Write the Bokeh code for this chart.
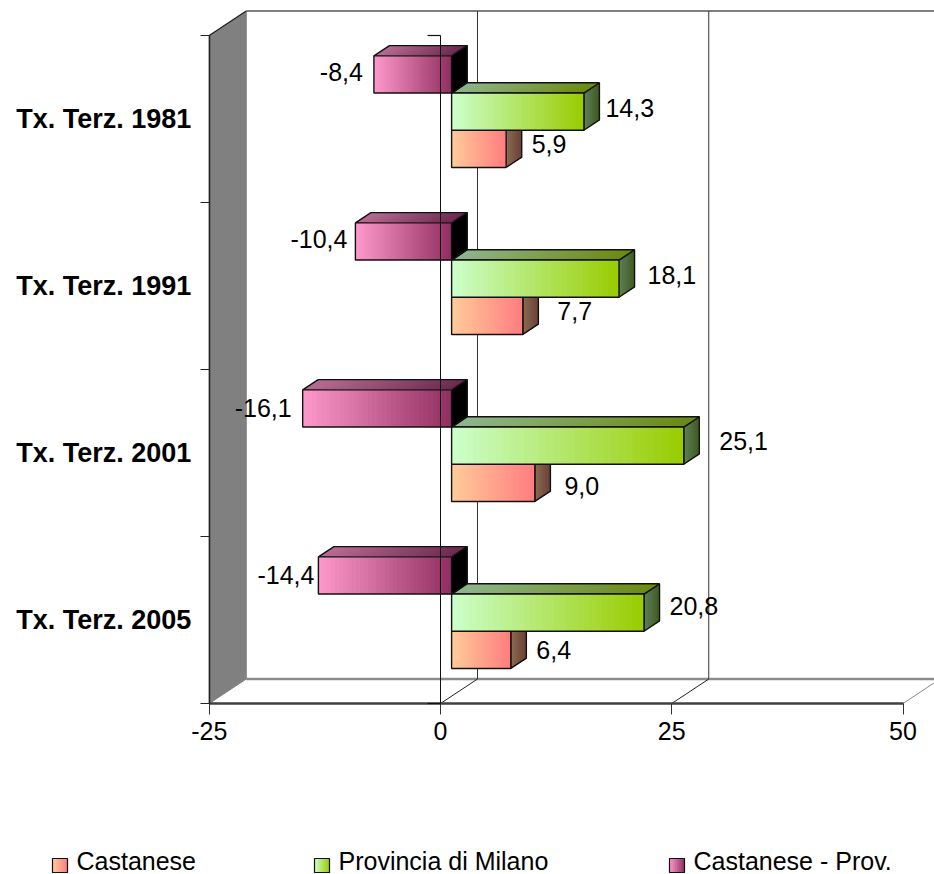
from bokeh.embed import file_html
from bokeh.models import FixedTicker, Range1d
from bokeh.plotting import figure
from bokeh.resources import INLINE

# Chart values
categories = ["Tx. Terz. 1981", "Tx. Terz. 1991", "Tx. Terz. 2001", "Tx. Terz. 2005"]
castanese = [5.9, 7.7, 9.0, 6.4]
provincia = [14.3, 18.1, 25.1, 20.8]
differenza = [-8.4, -10.4, -16.1, -14.4]
x_ticks = [-25, 0, 25, 50]
series_names = ["Castanese", "Provincia di Milano", "Castanese - Prov."]

W, H = 934, 874
PX_PER_UNIT = 9.25          # horizontal pixels per value unit
ZERO_PX = 440.0             # page x of value 0 on the front plane
PX_PER_SLOT = 167.0         # vertical pixels per category slot
TOP_PX = 35.0               # page y of the top of slot 0
DEPTH_X, DEPTH_Y = 37.0, 24.5  # oblique offset between front and back planes
BAR_NEAR, BAR_FAR = 0.30, 0.72  # depth span occupied by the bars
SLOT_MARGIN = 0.166
BAR_BAND = (1 - 2 * SLOT_MARGIN) / 3
FONT = "Liberation Sans"
TEXT_PX = "25px"


def xval(px):
    return (px - ZERO_PX) / PX_PER_UNIT


def yval(px):
    return (px - TOP_PX) / PX_PER_SLOT


def project(v, s, d):
    """Value, slot position and depth to oblique plot coordinates."""
    return v + d * DEPTH_X / PX_PER_UNIT, s - d * DEPTH_Y / PX_PER_SLOT


p = figure(
    width=W, height=H, output_backend="svg", toolbar_location=None,
    x_range=Range1d(xval(0), xval(W)), y_range=Range1d(yval(H), yval(0)),
    min_border=0, min_border_left=0, min_border_right=0,
    min_border_top=0, min_border_bottom=0,
    background_fill_color="white", border_fill_color="white",
)
p.outline_line_color = None
p.grid.visible = False

# Side wall, back-plane edges, floor
wall_x, wall_y = zip(*[project(-25, 0, 0), project(-25, 0, 1), project(-25, 4, 1), project(-25, 4, 0)])
p.patch(list(wall_x), list(wall_y), fill_color="#808080", line_color="#808080", line_width=1)

bx0, by0 = project(-25, 0, 1)
bx1, by1 = project(-25, 4, 1)
p.line([bx0, xval(W + 5)], [by0, by0], line_color="#808080", line_width=2)
p.line([bx1, xval(W + 5)], [by1, by1], line_color="#8c8c8c", line_width=2.5)
p.line([project(-25, 0, 0)[0], bx0], [project(-25, 0, 0)[1], by0], line_color="#222222", line_width=1.2)

for t in x_ticks[1:]:
    fx, fy = project(t, 4, 0)
    gx, gy = project(t, 4, 1)
    color = "#8c8c8c" if t == x_ticks[-1] else "#222222"
    p.line([fx, gx], [fy, gy], line_color=color, line_width=1)
    if t != x_ticks[-1]:
        p.line([gx, gx], [by0, gy], line_color="#333333", line_width=1)


def hex_mix(a, b, t):
    ca = [int(a[i:i + 2], 16) for i in (1, 3, 5)]
    cb = [int(b[i:i + 2], 16) for i in (1, 3, 5)]
    return "#%02x%02x%02x" % tuple(round(u + (w - u) * t) for u, w in zip(ca, cb))


def ramp(n, c0, c1):
    return [(i / n, hex_mix(c0, c1, (i + 0.5) / n)) for i in range(n)]


STYLES = [
    dict(front=("#ffcc99", "#ff7c80"), top=("#8c6e52", "#704440"), side=("#8c6b50", "#6b4038")),
    dict(front=("#ccffcc", "#99cc00"), top=("#8fb58f", "#6b8a10"), side=("#5f8058", "#3f5a20")),
    dict(front=("#ff99cc", "#8f2f60"), top=("#b86c94", "#6b2a4f"), side=("#000000", "#000000")),
]
OUTLINE = "#111111"


def draw_bar(value, s0, s1, style):
    lo, hi = min(0, value), max(0, value)
    x0 = project(lo, s0, BAR_NEAR)[0]
    x1 = project(hi, s0, BAR_NEAR)[0]
    y0 = project(0, s0, BAR_NEAR)[1]
    y1 = project(0, s1, BAR_NEAR)[1]
    dx = (BAR_FAR - BAR_NEAR) * DEPTH_X / PX_PER_UNIT
    dy = (BAR_FAR - BAR_NEAR) * DEPTH_Y / PX_PER_SLOT

    # Ramps are painted back to front: each step runs to the far end of the
    # face and the next one covers it, so no seams appear between the steps.
    for t, c in ramp(8, *style["side"]):
        p.patch([x1 + dx * t, x1 + dx, x1 + dx, x1 + dx * t],
                [y0 - dy * t, y0 - dy, y1 - dy, y1 - dy * t],
                fill_color=c, line_color=None)
    p.patch([x1, x1 + dx, x1 + dx, x1], [y0, y0 - dy, y1 - dy, y1],
            fill_color=None, line_color=OUTLINE, line_width=1.4)

    w = x1 - x0
    for t, c in ramp(32, *style["top"]):
        l = x0 + w * t
        p.patch([l, x1, x1 + dx, l + dx], [y0, y0, y0 - dy, y0 - dy],
                fill_color=c, line_color=None)
    p.patch([x0, x1, x1 + dx, x0 + dx], [y0, y0, y0 - dy, y0 - dy],
            fill_color=None, line_color=OUTLINE, line_width=1.4)

    for t, c in ramp(32, *style["front"]):
        p.quad(left=[x0 + w * t], right=[x1], top=[y0], bottom=[y1], fill_color=c, line_color=None)
    p.quad(left=[x0], right=[x1], top=[y0], bottom=[y1], fill_color=None, line_color=OUTLINE, line_width=1.4)


for i in range(len(categories)):
    top = i + SLOT_MARGIN
    # lowest band first so each upper band covers the hidden face of the one below
    draw_bar(castanese[i], top + 2 * BAR_BAND, top + 3 * BAR_BAND, STYLES[0])
    draw_bar(provincia[i], top + BAR_BAND, top + 2 * BAR_BAND, STYLES[1])
    draw_bar(differenza[i], top, top + BAR_BAND, STYLES[2])

# Data labels: small per-label nudges in pixels keep them clear of the bars
nudges = {
    (0, 0): (10, -5), (0, 1): (6, -4), (0, 2): (-11, -2),
    (1, 0): (19, -5), (1, 1): (13, -4), (1, 2): (-8, -2),
    (2, 0): (14, 3), (2, 1): (20, -5), (2, 2): (-11, 0),
    (3, 0): (10, 0), (3, 1): (10, -7), (3, 2): (-4, 0),
}
for i in range(len(categories)):
    top = i + SLOT_MARGIN
    for j, series in enumerate((castanese, provincia, differenza)):
        v = series[i]
        band = 2 - j
        s_mid = top + (band + 0.5) * BAR_BAND
        if v >= 0:
            xa = project(v, s_mid, BAR_FAR)[0]
            ya = project(v, s_mid, BAR_NEAR)[1]
            align = "left"
        else:
            xa, ya = project(v, s_mid, BAR_NEAR)
            align = "right"
        dx, dy = nudges[(i, j)]
        p.text([xa + dx / PX_PER_UNIT], [ya + dy / PX_PER_SLOT],
               text=[f"{v:.1f}".replace(".", ",")],
               text_font={"value": FONT}, text_font_size={"value": TEXT_PX},
               text_align=align, text_baseline="middle", text_color="#000000")

# Zero line with its end ticks, in front of the bars
p.segment([0], [0], [0], [4], line_color="#111111", line_width=1, level="overlay")
for s in (0, 4):
    p.segment([xval(ZERO_PX - 13)], [s], [0], [s], line_color="#111111", line_width=1.2, level="overlay")

# Value axis along the front edge of the floor
p.xaxis.fixed_location = 4
p.xaxis.bounds = (x_ticks[0], x_ticks[-1])
p.xaxis.ticker = FixedTicker(ticks=x_ticks)
p.xaxis.major_label_overrides = {t: str(t) for t in x_ticks}
p.xaxis.axis_line_color = "#404040"
p.xaxis.axis_line_width = 2.5
p.xaxis.major_tick_line_color = "#333333"
p.xaxis.major_tick_in = 0
p.xaxis.major_tick_out = 11
p.xaxis.minor_tick_line_color = None
p.xaxis.major_label_standoff = 7
p.xaxis.major_label_text_font = FONT
p.xaxis.major_label_text_font_size = TEXT_PX
p.xaxis.major_label_text_color = "#000000"

# Category axis on the wall edge
p.yaxis.fixed_location = -25
p.yaxis.bounds = (0, len(categories))
p.yaxis.ticker = FixedTicker(
    ticks=[i + 0.5 for i in range(len(categories))],
    minor_ticks=list(range(len(categories) + 1)),
)
p.yaxis.major_label_overrides = {i + 0.5: c for i, c in enumerate(categories)}
p.yaxis.axis_line_color = "#222222"
p.yaxis.axis_line_width = 1.5
p.yaxis.major_tick_line_color = None
p.yaxis.major_tick_in = 0
p.yaxis.major_tick_out = 0
p.yaxis.minor_tick_line_color = "#222222"
p.yaxis.minor_tick_in = 0
p.yaxis.minor_tick_out = 9
p.yaxis.major_label_standoff = 9
p.yaxis.major_label_text_font = FONT
p.yaxis.major_label_text_font_size = "27px"
p.yaxis.major_label_text_font_style = "bold"
p.yaxis.major_label_text_color = "#000000"

# Legend row under the chart
legend_left = [52, 314, 669]
for name, style, left in zip(series_names, STYLES, legend_left):
    x0, x1 = xval(left), xval(left + 15)
    y0, y1 = yval(858), yval(872)
    w = x1 - x0
    for t, c in ramp(8, *style["front"]):
        p.quad(left=[x0 + w * t], right=[x1], top=[y0], bottom=[y1], fill_color=c, line_color=None)
    p.quad(left=[x0], right=[x1], top=[y0], bottom=[y1], fill_color=None, line_color=OUTLINE, line_width=1.2)
    p.text([xval(left + 24)], [yval(860)], text=[name],
           text_font={"value": FONT}, text_font_size={"value": TEXT_PX},
           text_align="left", text_baseline="middle", text_color="#000000")

open("out.html", "w").write(file_html(p, INLINE))
